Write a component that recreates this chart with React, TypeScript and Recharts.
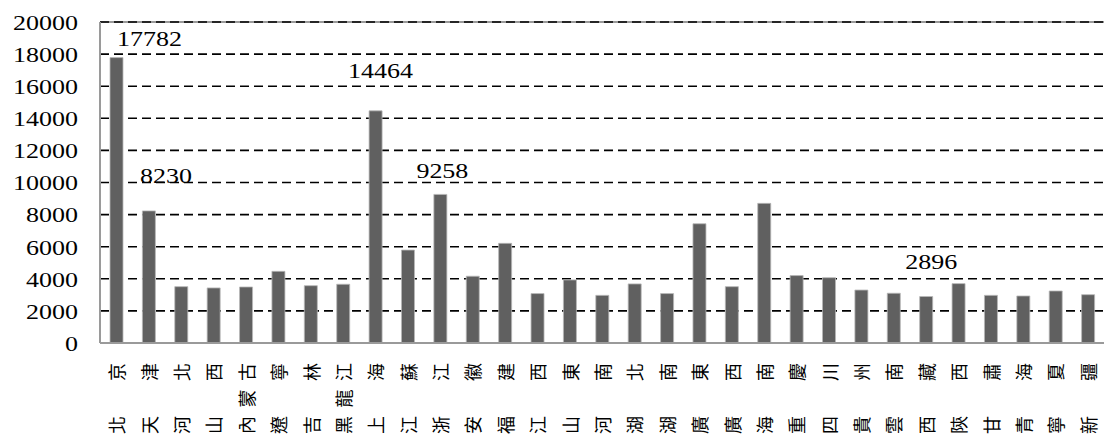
import React from "react";
import {
  BarChart,
  Bar,
  XAxis,
  YAxis,
  CartesianGrid,
  ReferenceLine,
  LabelList,
} from "recharts";

const provinces = [
  "北京", "天津", "河北", "山西", "內蒙古", "遼寧", "吉林", "黑龍江",
  "上海", "江蘇", "浙江", "安徽", "福建", "江西", "山東", "河南",
  "湖北", "湖南", "廣東", "廣西", "海南", "重慶", "四川", "貴州",
  "雲南", "西藏", "陝西", "甘肅", "青海", "寧夏", "新疆",
];

const amounts = [
  17782, 8230, 3510, 3430, 3490, 4465, 3570, 3660,
  14464, 5790, 9258, 4160, 6210, 3080, 3930, 2970,
  3680, 3080, 7430, 3510, 8700, 4200, 4070, 3300,
  3100, 2896, 3700, 2970, 2930, 3240, 3010,
];

const yTicks = [0, 2000, 4000, 6000, 8000, 10000, 12000, 14000, 16000, 18000, 20000];

// provinces whose value is printed, with a nudge [dx, gap above bar]
const labelNudge: Record<string, [number, number]> = {
  北京: [33, 12],
  天津: [17, 28],
  上海: [5, 33],
  浙江: [2, 16],
  西藏: [5, 28],
};

const rows = provinces.map((name, i) => ({ name, value: amounts[i] }));

const serifText: React.CSSProperties = {
  fontFamily: "'Liberation Serif', 'Times New Roman', Times, serif",
  fontSize: 20,
};
const cjkText: React.CSSProperties = {
  fontFamily: "'Noto Sans CJK TC', 'Noto Sans CJK SC', sans-serif",
  fontSize: 18,
};

function ValueTick({ x, y, payload }: any) {
  return (
    <text
      transform={`translate(${x},${y + 1}) scale(1.3,1)`}
      textAnchor="end"
      dominantBaseline="central"
      style={serifText}
      fill="#000"
    >
      {payload.value}
    </text>
  );
}

// names are set rotated, one glyph at a time, spread over a fixed span
function NameTick({ x, y, payload }: any) {
  const chars = Array.from(String(payload.value));
  const top = y + 29;
  const bottom = y + 82;
  const n = chars.length;
  return (
    <g>
      {chars.map((c, i) => {
        const cy = n === 1 ? bottom : bottom - (i * (bottom - top)) / (n - 1);
        return (
          <text
            key={i}
            transform={`translate(${x},${cy}) rotate(-90)`}
            textAnchor="middle"
            dominantBaseline="central"
            style={cjkText}
            fill="#000"
          >
            {c}
          </text>
        );
      })}
    </g>
  );
}

function ValueLabel(props: any) {
  const { x, y, width, value, index } = props;
  const nudge = labelNudge[provinces[index]];
  if (!nudge) return null;
  const cx = x + width / 2 + nudge[0];
  const by = y - nudge[1];
  return (
    <text
      transform={`translate(${cx},${by}) scale(1.3,1)`}
      textAnchor="middle"
      style={serifText}
      fill="#000"
    >
      {value}
    </text>
  );
}

export default function App() {
  return (
    <div
      style={{
        position: "absolute",
        left: 0,
        top: 0,
        width: 1104,
        height: 437,
        background: "#fff",
      }}
    >
      <BarChart
        width={1104}
        height={437}
        data={rows}
        margin={{ top: 22, right: 0, bottom: 0, left: 0 }}
        barCategoryGap={0}
      >
        <CartesianGrid
          vertical={false}
          stroke="#000"
          strokeWidth={1.6}
          strokeDasharray="9 5"
        />
        <ReferenceLine y={20000} stroke="#9a9a9a" strokeWidth={2} />
        <ReferenceLine
          y={20000}
          stroke="#000"
          strokeWidth={1.6}
          strokeDasharray="9 5"
        />
        <XAxis
          dataKey="name"
          interval={0}
          height={94}
          tickLine={false}
          tickSize={0}
          tickMargin={0}
          axisLine={{ stroke: "#9a9a9a", strokeWidth: 2 }}
          tick={<NameTick />}
        />
        <YAxis
          domain={[0, 20000]}
          ticks={yTicks}
          width={100}
          tickLine={false}
          tickSize={0}
          tickMargin={22}
          axisLine={{ stroke: "#9a9a9a", strokeWidth: 2 }}
          tick={<ValueTick />}
        />
        <Bar
          dataKey="value"
          fill="#606060"
          stroke="#b8b8b8"
          strokeWidth={0.8}
          barSize={13}
          isAnimationActive={false}
        >
          <LabelList dataKey="value" content={<ValueLabel />} />
        </Bar>
      </BarChart>
    </div>
  );
}
